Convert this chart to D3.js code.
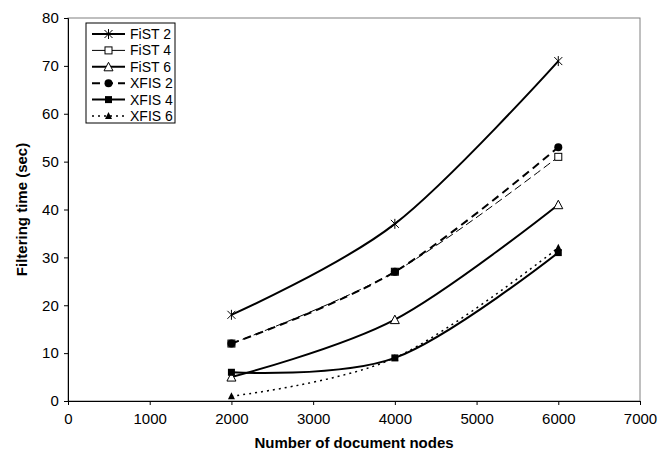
<!DOCTYPE html>
<html>
<head>
<meta charset="utf-8">
<script src="https://cdn.jsdelivr.net/npm/d3@7"></script>
<style>
  body { margin: 0; background: #fff; }
  svg { font-family: "Liberation Sans", Arial, sans-serif; }
</style>
</head>
<body>
<script>
// data
const nodes = [2000, 4000, 6000];
const seriesNames = ["FiST 2", "FiST 4", "FiST 6", "XFIS 2", "XFIS 4", "XFIS 6"];
const fist2 = [18, 37, 71];
const fist4 = [12, 27, 51];
const fist6 = [5, 17, 41];
const xfis2 = [12, 27, 53];
const xfis4 = [6, 9, 31];
const xfis6 = [1, 9, 32];
const xTicks = [0, 1000, 2000, 3000, 4000, 5000, 6000, 7000];
const yTicks = [0, 10, 20, 30, 40, 50, 60, 70, 80];

const W = 663, H = 456;
const margin = {left: 68, top: 18, right: 23, bottom: 55};

const svg = d3.select('body').append('svg')
  .attr('width', W).attr('height', H);

const x = d3.scaleLinear().domain([0, 7000]).range([margin.left, W - margin.right]);
const y = d3.scaleLinear().domain([0, 80]).range([H - margin.bottom, margin.top]);

// plot area border (grey right/top)
svg.append('rect')
  .attr('x', x(0)).attr('y', y(80))
  .attr('width', x(7000) - x(0)).attr('height', y(0) - y(80))
  .attr('fill', 'none').attr('stroke', '#808080').attr('stroke-width', 1);

const xAxis = svg.append('g')
  .attr('transform', `translate(0,${y(0)})`)
  .call(d3.axisBottom(x).tickValues(xTicks).tickSize(4).tickFormat(d3.format('d')));
const yAxis = svg.append('g')
  .attr('transform', `translate(${x(0)},0)`)
  .call(d3.axisLeft(y).tickValues(yTicks).tickSize(4));

[xAxis, yAxis].forEach(a => {
  a.select('.domain').attr('stroke', '#000');
  a.selectAll('.tick line').attr('stroke', '#000');
  a.selectAll('text').attr('font-size', 15).attr('fill', '#000')
    .attr('font-family', '"Liberation Sans", Arial, sans-serif');
});
xAxis.selectAll('text').attr('dy', '1.05em');
yAxis.selectAll('text').attr('dx', '-0.15em');

svg.append('text')
  .attr('x', (x(0) + x(7000)) / 2).attr('y', 448)
  .attr('text-anchor', 'middle').attr('font-size', 15).attr('font-weight', 'bold')
  .text('Number of document nodes');

svg.append('text')
  .attr('transform', `translate(27,${(y(0) + y(80)) / 2}) rotate(-90)`)
  .attr('text-anchor', 'middle').attr('font-size', 15).attr('font-weight', 'bold')
  .text('Filtering time (sec)');

// series styles
const styles = [
  {vals: fist2, width: 2, dash: null, marker: 'star'},
  {vals: fist4, width: 1, dash: '8,4', marker: 'square-open'},
  {vals: fist6, width: 2, dash: null, marker: 'triangle-open'},
  {vals: xfis2, width: 2, dash: '8,5', marker: 'circle'},
  {vals: xfis4, width: 2, dash: null, marker: 'square'},
  {vals: xfis6, width: 1.5, dash: '2,4', marker: 'triangle-small'}
];

const line = d3.line()
  .x(d => x(d.n)).y(d => y(d.v))
  .curve(d3.curveCardinal.tension(0));

function drawMarker(g, type) {
  if (type === 'star') {
    g.append('path').attr('d', 'M-4,-4L4,4M-4,4L4,-4M0,-5L0,5')
      .attr('stroke', '#000').attr('stroke-width', 1).attr('fill', 'none');
  } else if (type === 'square-open') {
    g.append('rect').attr('x', -3.5).attr('y', -3.5).attr('width', 7).attr('height', 7)
      .attr('fill', '#fff').attr('stroke', '#000').attr('stroke-width', 1);
  } else if (type === 'triangle-open') {
    g.append('path').attr('d', 'M0,-4.5L4.5,4L-4.5,4Z')
      .attr('fill', '#fff').attr('stroke', '#000').attr('stroke-width', 1);
  } else if (type === 'circle') {
    g.append('circle').attr('r', 4).attr('fill', '#000');
  } else if (type === 'square') {
    g.append('rect').attr('x', -3.5).attr('y', -3.5).attr('width', 7).attr('height', 7)
      .attr('fill', '#000');
  } else if (type === 'triangle-small') {
    g.append('path').attr('d', 'M0,-4L3.5,3L-3.5,3Z').attr('fill', '#000');
  }
}

styles.forEach((s, i) => {
  const pts = nodes.map((n, j) => ({n, v: s.vals[j]}));
  svg.append('path')
    .datum(pts)
    .attr('d', line)
    .attr('fill', 'none')
    .attr('stroke', '#000')
    .attr('stroke-width', s.width)
    .attr('stroke-dasharray', s.dash);
  svg.selectAll(null).data(pts).enter().append('g')
    .attr('transform', d => `translate(${x(d.n)},${y(d.v)})`)
    .each(function () { drawMarker(d3.select(this), s.marker); });
});

// legend
const legend = svg.append('g').attr('transform', 'translate(86,23)');
legend.append('rect')
  .attr('width', 89).attr('height', 100)
  .attr('fill', '#fff').attr('stroke', '#000').attr('stroke-width', 1);

styles.forEach((s, i) => {
  const ly = 11 + i * 16.4;
  const row = legend.append('g').attr('transform', `translate(0,${ly})`);
  row.append('line')
    .attr('x1', 6).attr('x2', 39).attr('y1', 0).attr('y2', 0)
    .attr('stroke', '#000').attr('stroke-width', s.width)
    .attr('stroke-dasharray', s.dash ? (s.marker === 'square-open' ? null : s.dash) : null);
  const m = row.append('g').attr('transform', 'translate(22.5,0)');
  drawMarker(m, s.marker);
  row.append('text')
    .attr('x', 44).attr('y', 0).attr('dy', '0.35em')
    .attr('font-size', 14).text(seriesNames[i]);
});
</script>
</body>
</html>
